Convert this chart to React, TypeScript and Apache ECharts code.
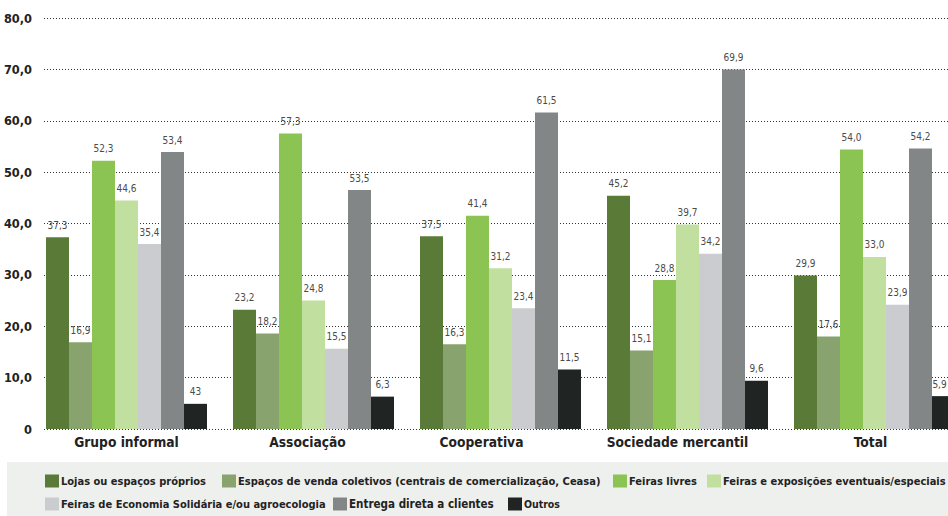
import React, { useEffect, useRef } from "react";
import * as echarts from "echarts";

const categories = ["Grupo informal", "Associação", "Cooperativa", "Sociedade mercantil", "Total"];
const categoryShift = [0, -6, -19, -10, -4];
const categoryTargetWidth = [86, 78, 69, 120, 28];

const seriesNames = [
  "Lojas ou espaços próprios",
  "Espaços de venda coletivos (centrais de comercialização, Ceasa)",
  "Feiras livres",
  "Feiras e exposições eventuais/especiais",
  "Feiras de Economia Solidária e/ou agroecologia",
  "Entrega direta a clientes",
  "Outros",
];
const legendTargetWidth = [145, 363, 68, 223, 265, 145, 36];

const lojas = [37.3, 23.2, 37.5, 45.4, 29.9];
const espacos = [16.9, 18.6, 16.5, 15.3, 18.0];
const feirasLivres = [52.2, 57.5, 41.5, 29.0, 54.4];
const feirasExpo = [44.5, 25.0, 31.3, 39.8, 33.5];
const ecoSol = [36.0, 15.6, 23.5, 34.1, 24.2];
const entrega = [53.9, 46.5, 61.6, 70.0, 54.6];
const outros = [4.9, 6.3, 11.6, 9.4, 6.4];

const lojasLabels = ["37,3", "23,2", "37,5", "45,2", "29,9"];
const espacosLabels = ["16,9", "18,2", "16,3", "15,1", "17,6"];
const feirasLivresLabels = ["52,3", "57,3", "41,4", "28,8", "54,0"];
const feirasExpoLabels = ["44,6", "24,8", "31,2", "39,7", "33,0"];
const ecoSolLabels = ["35,4", "15,5", "23,4", "34,2", "23,9"];
const entregaLabels = ["53,4", "53,5", "61,5", "69,9", "54,2"];
const outrosLabels = ["43", "6,3", "11,5", "9,6", "5,9"];

const yTicks = [0, 10, 20, 30, 40, 50, 60, 70, 80];

const colors = ["#5a7a38", "#88a36e", "#8bc453", "#c1e0a0", "#cbcccf", "#838687", "#202523"];

const legendPos = [
  [45, 474],
  [222, 474],
  [613, 474],
  [707, 474],
  [45, 497],
  [333, 497],
  [508, 497],
];

const FONT = "'Liberation Sans Narrow', 'DejaVu Sans Condensed', 'Liberation Sans', sans-serif";

function measure(text: string, weight: string, size: number): number {
  const ctx = document.createElement("canvas").getContext("2d");
  if (!ctx) return text.length * size * 0.5;
  ctx.font = `${weight} ${size}px ${FONT}`;
  return ctx.measureText(text).width;
}

function fit(text: string, weight: string, target: number): number {
  return (100 * target) / measure(text, weight, 100);
}

export default function App() {
  const ref = useRef<HTMLDivElement>(null);
  useEffect(() => {
    document.body.style.margin = "0";
    if (!ref.current) return;
    const chart = echarts.init(ref.current, null, { renderer: "svg" });
    const values = [lojas, espacos, feirasLivres, feirasExpo, ecoSol, entrega, outros];
    const labels = [lojasLabels, espacosLabels, feirasLivresLabels, feirasExpoLabels, ecoSolLabels, entregaLabels, outrosLabels];
    const yMin = yTicks[0];
    const yMax = yTicks[yTicks.length - 1];
    const yInterval = yTicks[1] - yTicks[0];

    const legendSizes = seriesNames.map((n, i) => Math.min(14, fit(n, "bold", legendTargetWidth[i])));
    const catSizes = categories.map((c, i) => fit(c, "bold", categoryTargetWidth[i]));
    const catSize = Math.min(17, (catSizes.reduce((a, b) => a + b, 0) / catSizes.length) * 1.15);
    const ySize = Math.min(16, fit("80,0", "bold", 26) * 1.08);
    const valSize = Math.min(13, fit("52,3", "normal", 19) * 1.05);

    const lastCat = categories.length - 1;
    const lastSeries = seriesNames.length - 1;

    chart.setOption({
      animation: false,
      backgroundColor: "#ffffff",
      grid: [
        { left: 44, right: 0, top: 18, height: 411, outerBoundsMode: "none", containLabel: false },
        { left: 33, width: 935, top: 18, height: 411, outerBoundsMode: "none", containLabel: false },
      ],
      xAxis: [
        { type: "value", gridIndex: 0, show: false, min: 0, max: 1 },
        {
          type: "category",
          gridIndex: 1,
          data: categories.map((c, i) => ({
            value: c,
            textStyle: categoryShift[i] < 0 ? { padding: [0, -2 * categoryShift[i], 0, 0] } : {},
          })),
          axisLine: { show: false },
          axisTick: { show: false },
          axisLabel: {
            fontFamily: FONT,
            fontWeight: "bold",
            fontSize: catSize,
            color: "#222222",
            margin: 6,
            interval: 0,
          },
        },
      ],
      yAxis: [
        {
          type: "value",
          gridIndex: 0,
          min: yMin,
          max: yMax,
          interval: yInterval,
          axisLine: { show: false },
          axisTick: { show: false },
          axisLabel: {
            fontFamily: FONT,
            fontWeight: "bold",
            fontSize: ySize,
            color: "#222222",
            margin: 12,
            formatter: (v: number) => (v === 0 ? "0" : v.toFixed(1).replace(".", ",")),
          },
          splitLine: { show: true, lineStyle: { type: [1, 2], color: "#333333", width: 1 } },
        },
        { type: "value", gridIndex: 1, min: yMin, max: yMax, interval: yInterval, show: false, splitLine: { show: false } },
      ],
      legend: seriesNames.map((n, i) => ({
        data: [n],
        left: legendPos[i][0],
        top: legendPos[i][1],
        padding: 0,
        itemWidth: 14,
        itemHeight: 13,
        itemGap: 0,
        icon: "rect",
        textStyle: {
          fontFamily: FONT,
          fontWeight: "bold",
          fontSize: legendSizes[i],
          color: "#222222",
          lineHeight: 14,
          padding: [0, 0, 0, -3],
        },
      })),
      graphic: [
        { type: "rect", left: 7, top: 462, shape: { width: 941, height: 54 }, style: { fill: "#eef0ee" }, z: -10 },
      ],
      series: seriesNames.map((n, i) => ({
        type: "bar",
        name: n,
        xAxisIndex: 1,
        yAxisIndex: 1,
        data: values[i].map((v, j) =>
          i === lastSeries && j === lastCat ? { value: v, label: { offset: [-4, 0] } } : v
        ),
        barWidth: 23,
        barGap: "0%",
        itemStyle: { color: colors[i] },
        label: {
          show: true,
          position: "top",
          distance: 7,
          fontFamily: FONT,
          fontSize: valSize,
          color: "#4a4a4a",
          formatter: (p: any) => labels[i][p.dataIndex],
        },
      })),
    });
    return () => chart.dispose();
  }, []);
  return <div ref={ref} style={{ width: 948, height: 516 }} />;
}
